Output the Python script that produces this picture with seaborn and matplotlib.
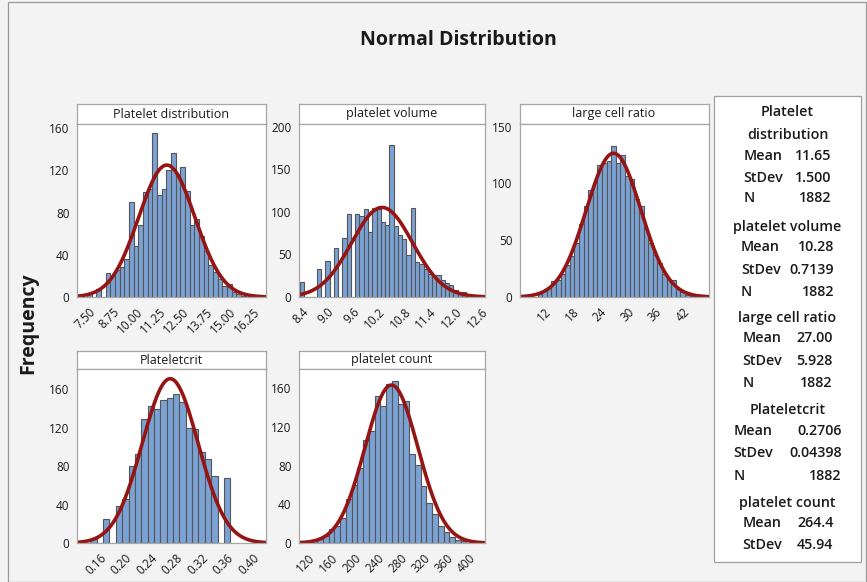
import numpy as np
import pandas as pd
import matplotlib
matplotlib.use("Agg")
import matplotlib.pyplot as plt
import seaborn as sns
from matplotlib.patches import Rectangle

# ---------------- data ----------------
pdw_centers = [7.50, 7.75, 8.00, 8.25, 8.50, 8.75, 9.00, 9.25, 9.50, 9.75, 10.00, 10.25,
               10.50, 10.75, 11.00, 11.25, 11.50, 11.75, 12.00, 12.25, 12.50, 12.75, 13.00,
               13.25, 13.50, 13.75, 14.00, 14.25, 14.50, 14.75, 15.00, 15.25, 15.50, 15.75]
pdw_counts = [4, 0, 8, 0, 23, 20, 26, 28, 36, 90, 48, 68,
              100, 102, 156, 97, 102, 120, 137, 117, 123, 101, 68,
              74, 58, 44, 30, 24, 17, 10, 12, 5, 3, 1]

mpv_centers = [8.4, 8.5, 8.6, 8.7, 8.8, 8.9, 9.0, 9.1, 9.2, 9.3, 9.4, 9.5, 9.6, 9.7, 9.8,
               9.9, 10.0, 10.1, 10.2, 10.3, 10.4, 10.5, 10.6, 10.7, 10.8, 10.9, 11.0, 11.1,
               11.2, 11.3, 11.4, 11.5, 11.6, 11.7, 11.8, 11.9, 12.0, 12.1, 12.2]
mpv_counts = [18, 0, 0, 0, 33, 0, 42, 0, 57, 0, 69, 98, 0, 97, 95,
              103, 76, 104, 103, 88, 85, 178, 83, 73, 68, 49, 104, 41,
              39, 33, 27, 26, 26, 20, 16, 14, 8, 6, 6]

plcr_centers = [11, 12, 13, 14, 15, 16, 17, 18, 19, 20, 21, 22, 23, 24, 25, 26, 27, 28,
                29, 30, 31, 32, 33, 34, 35, 36, 37, 38, 39, 40, 41, 42, 43, 44]
plcr_counts = [3, 5, 8, 14, 15, 20, 28, 36, 48, 64, 80, 94, 100, 116, 118, 120, 133, 118,
               125, 107, 104, 86, 80, 60, 48, 37, 30, 20, 15, 15, 7, 4, 2, 1]

pct_centers = [0.15, 0.16, 0.17, 0.18, 0.19, 0.20, 0.21, 0.22, 0.23, 0.24, 0.25, 0.26,
               0.27, 0.28, 0.29, 0.30, 0.31, 0.32, 0.33, 0.34, 0.35, 0.36]
pct_counts = [4, 0, 25, 0, 38, 46, 80, 92, 129, 142, 139, 149,
              151, 155, 147, 120, 118, 95, 87, 70, 0, 68]

plt_centers = [130, 140, 150, 160, 170, 180, 190, 200, 210, 220, 230, 240, 250, 260,
               270, 280, 290, 300, 310, 320, 330, 340, 350, 360, 370, 380, 390]
plt_counts = [2, 4, 7, 15, 18, 26, 46, 60, 78, 107, 116, 152, 142, 165,
              168, 144, 147, 92, 81, 59, 41, 30, 18, 11, 6, 3, 2]

panel_titles = ["Platelet distribution", "platelet volume", "large cell ratio",
                "Plateletcrit", "platelet count"]
bin_widths = [0.25, 0.1, 1.0, 0.01, 10.0]
means = [11.65, 10.28, 27.00, 0.2706, 264.4]
stdevs = [1.500, 0.7139, 5.928, 0.04398, 45.94]
n_obs = [1882, 1882, 1882, 1882, 1882]

pdw_xticks = [7.50, 8.75, 10.00, 11.25, 12.50, 13.75, 15.00, 16.25]
pdw_xlabels = ["7.50", "8.75", "10.00", "11.25", "12.50", "13.75", "15.00", "16.25"]
mpv_xticks = [8.4, 9.0, 9.6, 10.2, 10.8, 11.4, 12.0, 12.6]
mpv_xlabels = ["8.4", "9.0", "9.6", "10.2", "10.8", "11.4", "12.0", "12.6"]
plcr_xticks = [12, 18, 24, 30, 36, 42]
plcr_xlabels = ["12", "18", "24", "30", "36", "42"]
pct_xticks = [0.16, 0.20, 0.24, 0.28, 0.32, 0.36, 0.40]
pct_xlabels = ["0.16", "0.20", "0.24", "0.28", "0.32", "0.36", "0.40"]
plt_xticks = [120, 160, 200, 240, 280, 320, 360, 400]
plt_xlabels = ["120", "160", "200", "240", "280", "320", "360", "400"]

yticks_list = [[0, 40, 80, 120, 160], [0, 50, 100, 150, 200], [0, 50, 100, 150],
               [0, 40, 80, 120, 160], [0, 40, 80, 120, 160]]

legend_groups = [
    (["Platelet", "distribution"], [("Mean", "11.65"), ("StDev", "1.500"), ("N", "1882")]),
    (["platelet volume"], [("Mean", "10.28"), ("StDev", "0.7139"), ("N", "1882")]),
    (["large cell ratio"], [("Mean", "27.00"), ("StDev", "5.928"), ("N", "1882")]),
    (["Plateletcrit"], [("Mean", "0.2706"), ("StDev", "0.04398"), ("N", "1882")]),
    (["platelet count"], [("Mean", "264.4"), ("StDev", "45.94")]),
]

# ---------------- style ----------------
sns.set_theme(style="white")
plt.rcParams['font.family'] = ['Open Sans', 'DejaVu Sans']

W, H = 867, 582
BG = "#f3f3f3"
BAR = "#7ba2d4"
BAR_EDGE = "#555555"
CURVE = "#951515"
FRAME = "#a6a6a6"
TXT = "#1a1a1a"

fig = plt.figure(figsize=(W / 100, H / 100), dpi=100, facecolor=BG)


def px_axes(left, top, right, bottom):
    return fig.add_axes([left / W, 1 - bottom / H, (right - left) / W, (bottom - top) / H])


# figure border
fig.add_artist(Rectangle((8 / W, 0), (W - 9) / W, 1 - 2 / H, transform=fig.transFigure,
                         facecolor="none", edgecolor="#9a9a9a", linewidth=0.9))

panels = [
    dict(c=pdw_centers, n=pdw_counts, xt=pdw_xticks, xl=pdw_xlabels,
         xlim=(6.82, 16.93), ylim=(0, 164.1), box=(76.5, 104, 124, 265.5, 297)),
    dict(c=mpv_centers, n=mpv_counts, xt=mpv_xticks, xl=mpv_xlabels,
         xlim=(8.322, 12.69), ylim=(0, 203.2), box=(298.5, 104, 124, 485, 297)),
    dict(c=plcr_centers, n=plcr_counts, xt=plcr_xticks, xl=plcr_xlabels,
         xlim=(6.58, 47.6), ylim=(0, 152.4), box=(519.5, 104, 124, 708.5, 297)),
    dict(c=pct_centers, n=pct_counts, xt=pct_xticks, xl=pct_xlabels,
         xlim=(0.1232, 0.4205), ylim=(0, 180.8), box=(76.5, 351, 369, 265.5, 543)),
    dict(c=plt_centers, n=plt_counts, xt=plt_xticks, xl=plt_xlabels,
         xlim=(102.6, 427.2), ylim=(0, 180), box=(298.5, 351, 369, 485, 543)),
]

for i, p in enumerate(panels):
    left, stop, sbot, right, bottom = p["box"]
    bw = bin_widths[i]
    centers = np.array(p["c"], dtype=float)
    counts = np.array(p["n"], dtype=float)
    edges = [float(e) for e in (centers[0] - bw / 2 + bw * np.arange(len(centers) + 1))]

    # strip with panel title
    sax = px_axes(left, stop, right, sbot)
    sax.set_facecolor("white")
    sax.set_xticks([]); sax.set_yticks([])
    for s in sax.spines.values():
        s.set_color(FRAME); s.set_linewidth(0.9)
    sax.text(0.5, 0.5, panel_titles[i], ha="center", va="center", fontsize=9,
             color=TXT, transform=sax.transAxes)

    ax = px_axes(left, sbot, right, bottom)
    ax.set_facecolor("white")
    df = pd.DataFrame({"value": centers, "count": counts})
    sns.histplot(data=df, x="value", weights="count", bins=edges, ax=ax,
                 color=BAR, edgecolor=BAR_EDGE, linewidth=0.8, alpha=1.0)

    xs = np.linspace(p["xlim"][0], p["xlim"][1], 500)
    ys = n_obs[i] * bw / (stdevs[i] * np.sqrt(2 * np.pi)) * np.exp(-0.5 * ((xs - means[i]) / stdevs[i]) ** 2)
    sns.lineplot(x=xs, y=ys, ax=ax, color=CURVE, linewidth=2.6)

    ax.set_xlim(*p["xlim"])
    ax.set_ylim(*p["ylim"])
    ax.set_xticks(p["xt"])
    ax.set_xticklabels(p["xl"], rotation=45, ha="right", rotation_mode="anchor")
    ax.set_yticks(yticks_list[i])
    ax.set_yticklabels([str(v) for v in yticks_list[i]])
    ax.set_xlabel(""); ax.set_ylabel("")
    ax.tick_params(axis="both", direction="out", length=3, width=0.8, color="#7f7f7f",
                   labelsize=8.5, labelcolor=TXT, pad=2)
    ax.tick_params(axis="x", pad=3)
    for s in ax.spines.values():
        s.set_color(FRAME); s.set_linewidth(0.9)

# titles
fig.text(458 / W, 1 - 40 / H, "Normal Distribution", ha="center", va="center",
         fontsize=14, fontweight="bold", color=TXT)
fig.text(28 / W, 1 - 323 / H, "Frequency", rotation=90, ha="center", va="center",
         fontsize=14, fontweight="bold", color=TXT)

# legend box
fig.add_artist(Rectangle((713.5 / W, 1 - 562 / H), (861 - 713.5) / W, (562 - 96) / H,
                         transform=fig.transFigure, facecolor="white",
                         edgecolor="#a0a0a0", linewidth=0.9))

header_ys = [[111.7, 135], [226.7], [318.3], [410], [502.7]]
row_ys = [[155.7, 177.7, 198.3], [246.7, 270, 291.7], [338.3, 360.7, 383.3],
          [430.7, 452.7, 475.7], [522.7, 545]]
label_lx = [743.5, 741, 742.7, 733.3, 742.7]
value_rx = [831, 834.3, 832.7, 841.7, 833.3]
LFS = 10.3
for g, (heads, rows) in enumerate(legend_groups):
    for h, y in zip(heads, header_ys[g]):
        fig.text(787.5 / W, 1 - y / H, h, ha="center", va="center", fontsize=LFS,
                 fontweight="semibold", color=TXT)
    for (lab, val), y in zip(rows, row_ys[g]):
        fig.text(label_lx[g] / W, 1 - y / H, lab, ha="left", va="center", fontsize=LFS,
                 fontweight="semibold", color=TXT)
        fig.text(value_rx[g] / W, 1 - y / H, val, ha="right", va="center", fontsize=LFS,
                 fontweight="semibold", color=TXT)

fig.savefig("out.png", dpi=100, facecolor=BG)
